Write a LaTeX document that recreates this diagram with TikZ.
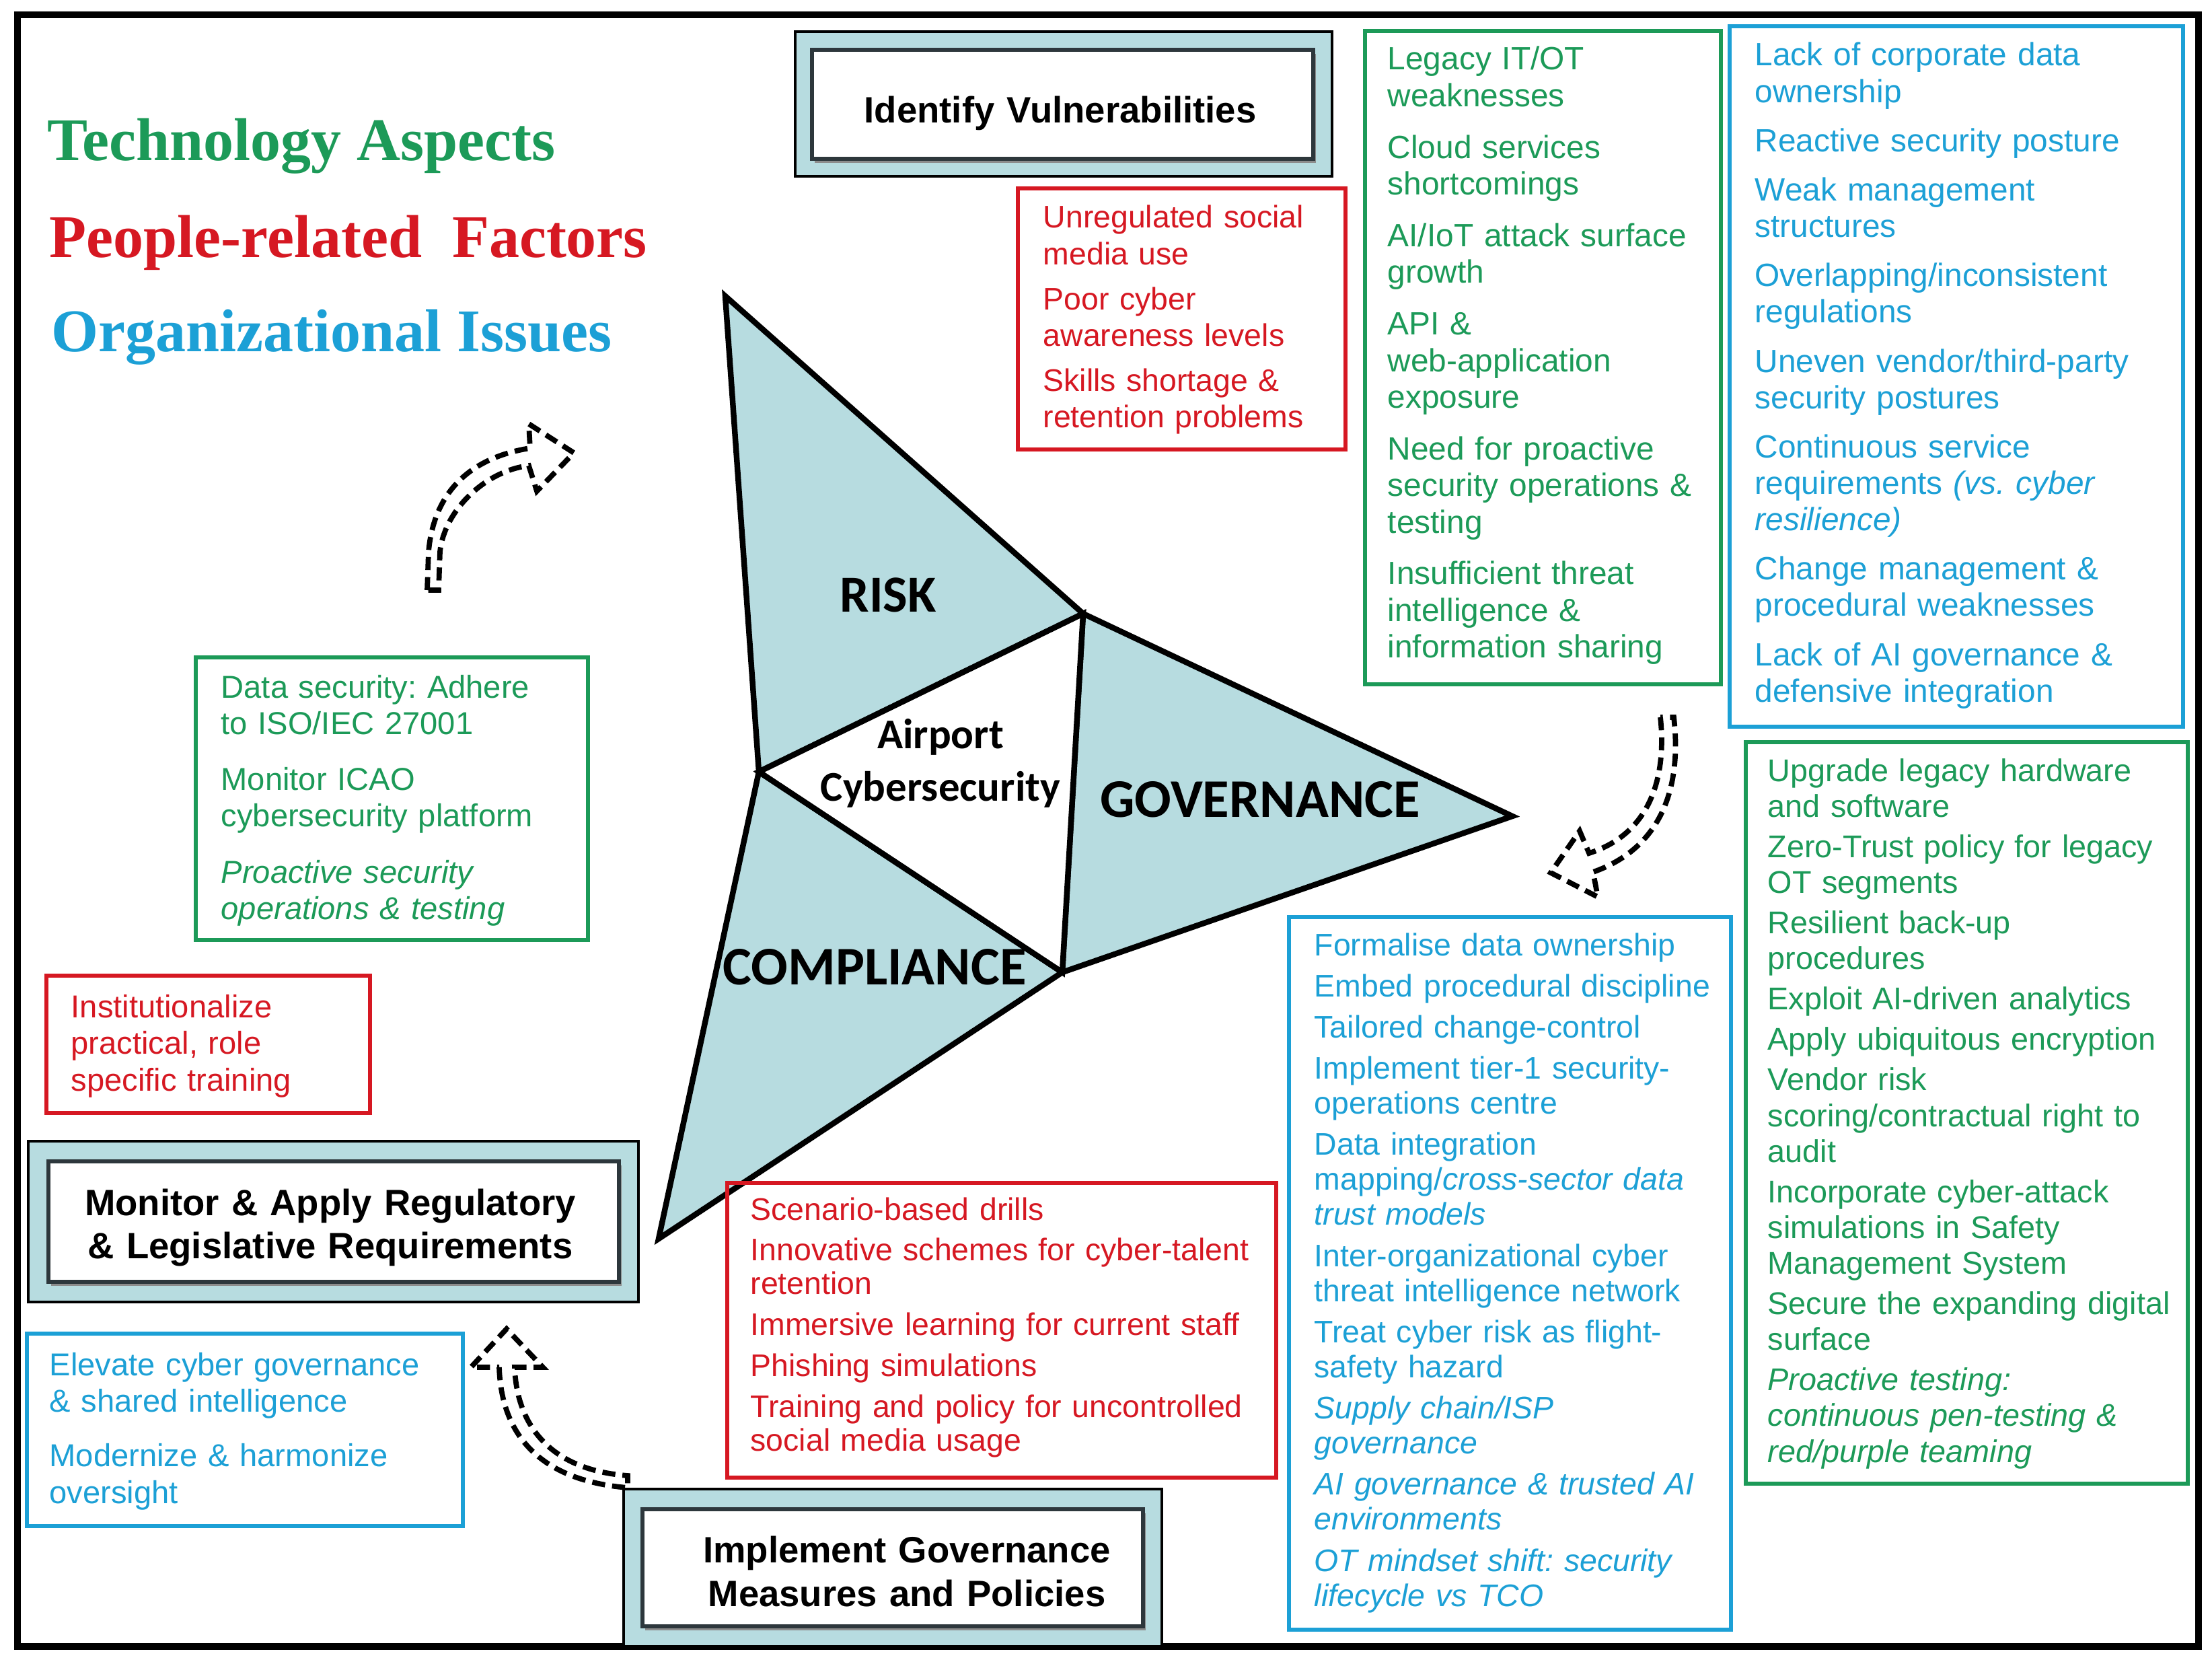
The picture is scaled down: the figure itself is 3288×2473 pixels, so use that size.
\documentclass[tikz,border=0pt]{standalone}
\usepackage{fontspec}
\setmainfont{Liberation Sans}
\newfontfamily\legendfont{Liberation Serif}
\newfontfamily\calfont{Carlito}
\usetikzlibrary{fit,shadows}
\definecolor{tgreen}{RGB}{28,154,88}
\definecolor{tred}{RGB}{214,24,34}
\definecolor{tblue}{RGB}{28,160,214}
\definecolor{lightfill}{RGB}{183,220,224}
\definecolor{framegray}{RGB}{45,55,60}
\frenchspacing
\tikzset{
  frameline/.style={draw=black, line width=2.6pt},
  gbox/.style={draw=tgreen, line width=1.5pt, inner sep=0pt},
  rbox/.style={draw=tred, line width=1.5pt, inner sep=0pt},
  bbox/.style={draw=tblue, line width=1.5pt, inner sep=0pt},
  outerbox/.style={draw=black, line width=1.1pt, fill=lightfill, inner sep=0pt},
  innerbox/.style={draw=framegray, line width=1.6pt, fill=white, inner sep=0pt,
    drop shadow={shadow xshift=1.2pt, shadow yshift=-1.6pt, fill=black!45, opacity=1}},
  boxtext/.style={anchor=base west, inner sep=0pt, align=left, text width=8cm},
  headtext/.style={anchor=base, inner sep=0pt, align=center, text width=8cm, text=black,
    font=\bfseries\fontsize{15.5}{18.5}\selectfont},
  tri/.style={draw=black, line width=2.4pt, fill=lightfill, line join=miter},
  tlabel/.style={anchor=base, inner sep=0pt, font=\calfont\bfseries\fontsize{23}{27}\selectfont},
  legend/.style={anchor=base west, inner sep=0pt, font=\legendfont\bfseries\fontsize{25.6}{30}\selectfont},
  hollowarrow/.style={draw=black, line width=2.2pt, dash pattern=on 5.5pt off 3pt, line join=miter},
}
\begin{document}
\begin{tikzpicture}[x=0.01cm, y=-0.01cm]
\useasboundingbox (0,0) rectangle (3288,2473);
\fill[white] (0,0) rectangle (3288,2473);

% outer frame
\draw[frameline] (26,22) rectangle (3268,2447);

% legend
\node[legend, text=tgreen] (leg1) at (70,239) {Technology Aspects};
\node[legend, text=tred] (leg2) at (73,383) {People-related\ \ Factors};
\node[legend, text=tblue] (leg3) at (76,522) {Organizational Issues};

% Identify vulnerabilities
\node[outerbox, fit={(1182,47) (1980,262)}] (idO) {};
\node[innerbox, fit={(1207,74) (1952,236)}] (idI) {};
\node[headtext] (idT) at (1576,183) {Identify Vulnerabilities};

% top red box
\node[rbox, fit={(1513,280) (2000,668)}] (r1) {};
\node[boxtext, text=tred, font=\fontsize{13.2}{15.4}\selectfont] (r1T) at (1550,339)
{Unregulated social\\media use\\[3.7pt]Poor cyber\\awareness levels\\[3.7pt]Skills shortage \&\\retention problems};

% top green box
\node[gbox, fit={(2029,46) (2558,1017)}] (g1) {};
\node[boxtext, text=tgreen, font=\fontsize{13.6}{15.5}\selectfont] (g1T) at (2062,104)
{Legacy IT/OT\\weaknesses\\[6.3pt]Cloud services\\shortcomings\\[6.3pt]AI/IoT attack surface\\growth\\[6.3pt]API \&\\web-application\\exposure\\[6.3pt]Need for proactive\\security operations \&\\testing\\[6.3pt]Insufficient threat\\intelligence \&\\information sharing};

% top blue box
\node[bbox, fit={(2571,39) (3245,1080)}] (b1) {};
\node[boxtext, text=tblue, font=\fontsize{13.6}{15.4}\selectfont] (b1T) at (2608,98)
{Lack of corporate data\\ownership\\[5.4pt]Reactive security posture\\[5.4pt]Weak management\\structures\\[5.4pt]Overlapping/inconsistent\\regulations\\[5.4pt]Uneven vendor/third-party\\security postures\\[5.4pt]Continuous service\\requirements \textit{(vs. cyber}\\\textit{resilience)}\\[5.4pt]Change management \&\\procedural weaknesses\\[5.4pt]Lack of AI governance \&\\defensive integration};

% triangles
\coordinate (rt) at (1078,440);
\coordinate (ja) at (1610,912);
\coordinate (jb) at (1128,1147);
\coordinate (jc) at (1579,1445);
\coordinate (gt) at (2248,1213);
\coordinate (cb) at (979,1841);
\filldraw[tri] (rt) -- (ja) -- (jb) -- cycle;
\filldraw[tri] (ja) -- (gt) -- (jc) -- cycle;
\filldraw[tri] (jb) -- (jc) -- (cb) -- cycle;
\filldraw[tri, fill=white] (ja) -- (jc) -- (jb) -- cycle;
\node[tlabel, font=\calfont\bfseries\fontsize{22}{26}\selectfont] (risk) at (1320,909) {RISK};
\node[tlabel] (gov) at (1873,1214) {GOVERNANCE};
\node[tlabel] (comp) at (1300,1463) {COMPLIANCE};
\node[anchor=base, inner sep=0pt, align=center, text width=4cm,
  font=\calfont\bfseries\fontsize{17.9}{22.4}\selectfont] (ac) at (1398,1112) {Airport\\Cybersecurity};

% mid green box
\node[gbox, fit={(291,977) (874,1397)}] (g2) {};
\node[boxtext, text=tgreen, font=\fontsize{13.4}{15.4}\selectfont] (g2T) at (328,1037)
{Data security: Adhere\\to ISO/IEC 27001\\[8.3pt]Monitor ICAO\\cybersecurity platform\\[8.3pt]\textit{Proactive security}\\\textit{operations \& testing}};

% mid red box
\node[rbox, fit={(69,1450) (550,1654)}] (r2) {};
\node[boxtext, text=tred, font=\fontsize{13.4}{15.5}\selectfont] (r2T) at (105,1512)
{Institutionalize\\practical, role\\specific training};

% Monitor box
\node[outerbox, fit={(42,1696) (949,1935)}] (moO) {};
\node[innerbox, fit={(72,1726) (920,1905)}] (moI) {};
\node[headtext] (moT) at (491,1806) {Monitor \& Apply Regulatory\\[-0.3pt]\& Legislative Requirements};

% bottom-left blue box
\node[bbox, fit={(40,1982) (688,2268)}] (b2) {};
\node[boxtext, text=tblue, font=\fontsize{13.4}{15.6}\selectfont] (b2T) at (73,2044)
{Elevate cyber governance\\\& shared intelligence\\[7.4pt]Modernize \& harmonize\\oversight};

% Implement box
\node[outerbox, fit={(927,2213) (1727,2447)}] (imO) {};
\node[innerbox, fit={(955,2243) (1699,2417)}] (imI) {};
\node[headtext] (imT) at (1348,2322) {Implement Governance\\Measures and Policies};

% bottom red box
\node[rbox, fit={(1081,1758) (1897,2196)}] (r3) {};
\node[boxtext, text=tred, font=\fontsize{13.2}{14.2}\selectfont] (r3T) at (1115,1813)
{Scenario-based drills\\[3.1pt]Innovative schemes for cyber-talent\\retention\\[3.1pt]Immersive learning for current staff\\[3.1pt]Phishing simulations\\[3.1pt]Training and policy for uncontrolled\\social media usage};

% bottom blue box
\node[bbox, fit={(1916,1363) (2573,2422)}] (b3) {};
\node[boxtext, text=tblue, font=\fontsize{13.2}{14.8}\selectfont] (b3T) at (1953,1420)
{Formalise data ownership\\[2.6pt]Embed procedural discipline\\[2.6pt]Tailored change-control\\[2.6pt]Implement tier-1 security-\\operations centre\\[2.6pt]Data integration\\mapping/\textit{cross-sector data}\\\textit{trust models}\\[2.6pt]Inter-organizational cyber\\threat intelligence network\\[2.6pt]Treat cyber risk as flight-\\safety hazard\\[2.6pt]\textit{Supply chain/ISP}\\\textit{governance}\\[2.6pt]\textit{AI governance \& trusted AI}\\\textit{environments}\\[2.6pt]\textit{OT mindset shift: security}\\\textit{lifecycle vs TCO}};

% bottom green box
\node[gbox, fit={(2595,1103) (3252,2205)}] (g3) {};
\node[boxtext, text=tgreen, font=\fontsize{13.3}{15.1}\selectfont] (g3T) at (2627,1161)
{Upgrade legacy hardware\\and software\\[2pt]Zero-Trust policy for legacy\\OT segments\\[2pt]Resilient back-up\\procedures\\[2pt]Exploit AI-driven analytics\\[2pt]Apply ubiquitous encryption\\[2pt]Vendor risk\\scoring/contractual right to\\audit\\[2pt]Incorporate cyber-attack\\simulations in Safety\\Management System\\[2pt]Secure the expanding digital\\surface\\[2pt]\textit{Proactive testing:}\\\textit{continuous pen-testing \&}\\\textit{red/purple teaming}};

% hollow dashed arrows
\draw[hollowarrow] (635,877) -- (637,820) .. controls (645,730) and (700,680) .. (788,666)
  -- (786,630) -- (853,673) -- (798,730) -- (786,692)
  .. controls (720,700) and (660,760) .. (654,820) -- (652,877) -- cycle;
\draw[hollowarrow] (2468,1066) .. controls (2478,1160) and (2450,1240) .. (2362,1268)
  -- (2348,1235) -- (2305,1297) -- (2375,1333) -- (2368,1296)
  .. controls (2470,1260) and (2500,1170) .. (2488,1066) -- cycle;
\draw[hollowarrow] (742,2032) .. controls (745,2130) and (800,2200) .. (933,2211)
  -- (933,2193) .. controls (820,2185) and (768,2120) .. (765,2032)
  -- (807,2032) -- (753,1975) -- (700,2032) -- cycle;
\end{tikzpicture}
\end{document}
